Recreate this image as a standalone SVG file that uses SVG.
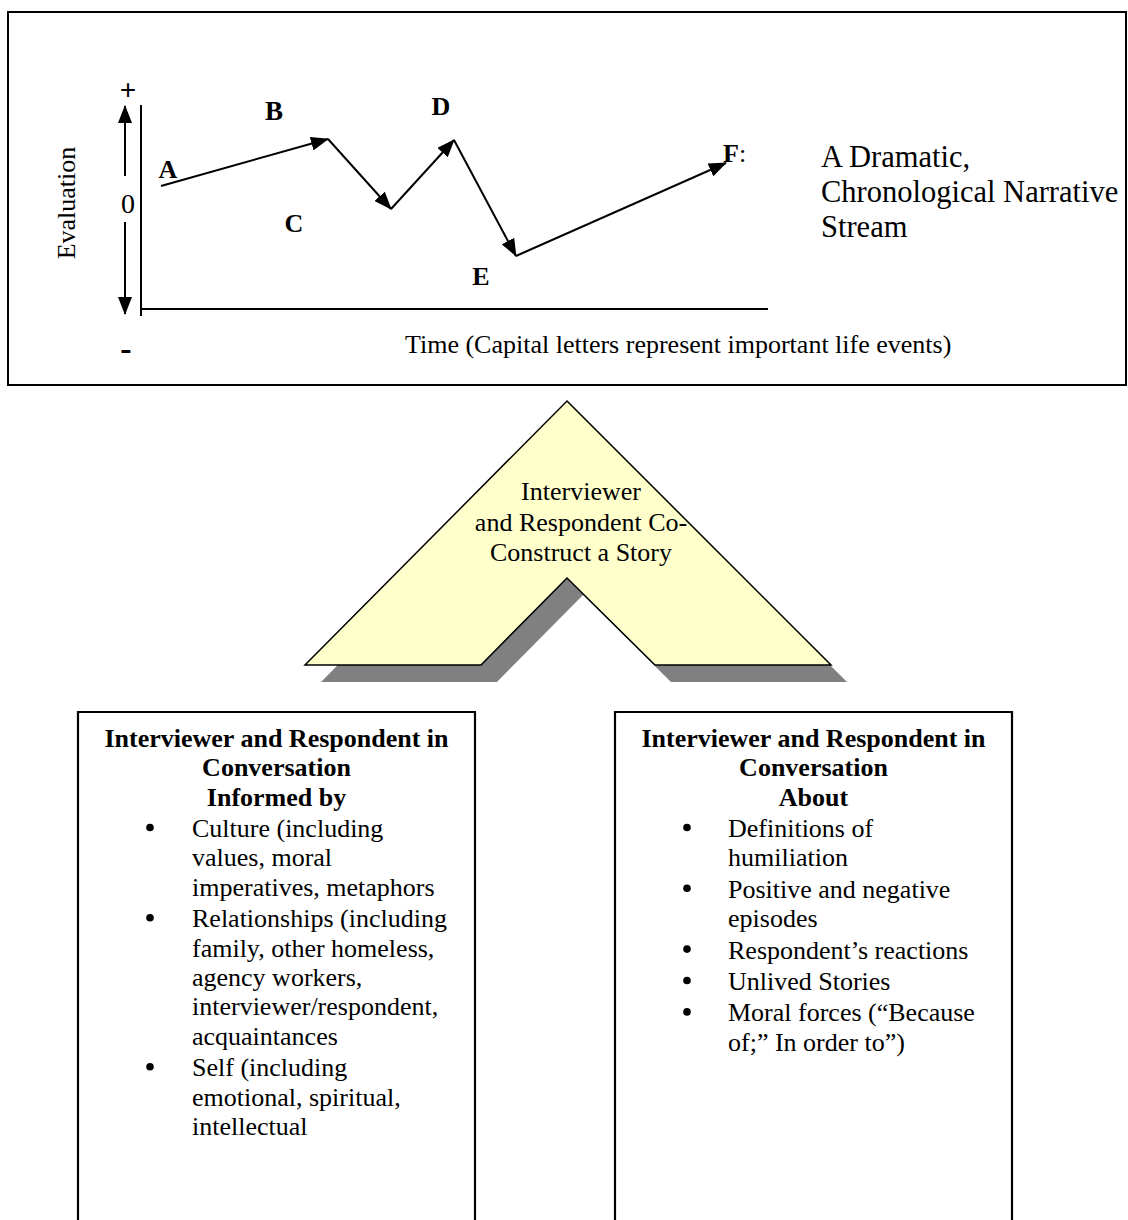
<svg xmlns="http://www.w3.org/2000/svg" width="1128" height="1220" viewBox="0 0 1128 1220">
  <style>
    .serif { font-family: "Liberation Serif", "Times New Roman", serif; fill: #000; }
    .lbl { font-family: "Liberation Serif", "Times New Roman", serif; font-size: 26px; font-weight: bold; fill: #000; }
    .txt { font-family: "Liberation Serif", "Times New Roman", serif; font-size: 26px; fill: #000; }
    .hd { font-family: "Liberation Serif", "Times New Roman", serif; font-size: 26px; font-weight: bold; fill: #000; text-anchor: middle; }
    .ln { stroke: #000; stroke-width: 2; fill: none; }
    .seg { stroke: #000; stroke-width: 2; fill: none; marker-end: url(#head); }
    .box { stroke: #000; stroke-width: 2.2; fill: none; }
    .dot { fill: #000; }
  </style>
  <defs>
    <marker id="head" viewBox="0 0 18 14" refX="17" refY="7" markerWidth="18" markerHeight="14" markerUnits="userSpaceOnUse" orient="auto">
      <path d="M0,0 L18,7 L0,14 z" fill="#000"/>
    </marker>
  </defs>

  <!-- chart frame -->
  <g id="chart-frame">
    <rect x="8" y="12" width="1118" height="373" fill="#fff" stroke="#000" stroke-width="2"/>
  </g>

  <!-- axes -->
  <g id="axes">
    <line class="ln" x1="141" y1="105" x2="141" y2="316"/>
    <line class="ln" x1="141" y1="309" x2="768" y2="309"/>
    <line class="seg" x1="125" y1="176" x2="125" y2="106"/>
    <line class="seg" x1="125" y1="222" x2="125" y2="314"/>
    <text class="lbl" style="font-size:29px" x="128" y="100" text-anchor="middle">+</text>
    <text class="txt" style="font-size:28px" x="128" y="213" text-anchor="middle">0</text>
    <text class="lbl" style="font-size:34px" x="126" y="360" text-anchor="middle">-</text>
    <text class="txt" x="75" y="203" text-anchor="middle" transform="rotate(-90 75 203)">Evaluation</text>
    <text class="txt" x="405" y="353">Time (Capital letters represent important life events)</text>
  </g>

  <!-- narrative stream connectors -->
  <g id="connectors">
    <line class="seg" x1="161" y1="186" x2="328" y2="139"/>
    <line class="seg" x1="328" y1="139" x2="391" y2="209"/>
    <line class="seg" x1="391" y1="209" x2="454" y2="140"/>
    <line class="seg" x1="454" y1="140" x2="516" y2="256"/>
    <line class="seg" x1="516" y1="256" x2="726" y2="163"/>
  </g>

  <!-- life events -->
  <g id="event-a"><text class="lbl" x="168" y="178" text-anchor="middle">A</text></g>
  <g id="event-b"><text class="lbl" style="font-size:27px" x="274" y="120" text-anchor="middle">B</text></g>
  <g id="event-c"><text class="lbl" x="294" y="232" text-anchor="middle">C</text></g>
  <g id="event-d"><text class="lbl" x="441" y="115" text-anchor="middle">D</text></g>
  <g id="event-e"><text class="lbl" x="481" y="285" text-anchor="middle">E</text></g>
  <g id="event-f"><text class="lbl" x="723" y="162">F<tspan style="font-weight:normal">:</tspan></text></g>

  <g id="stream-title">
    <text class="serif" style="font-size:30.5px" x="821" y="167">A Dramatic,</text>
    <text class="serif" style="font-size:30.5px" x="821" y="202">Chronological Narrative</text>
    <text class="serif" style="font-size:30.5px" x="821" y="237">Stream</text>
  </g>

  <!-- co-construction chevron -->
  <g id="chevron">
    <polygon points="567,401 831,665 655,665 567,578 481,665 305,665" transform="translate(16,17)" fill="#808080"/>
    <polygon points="567,401 831,665 655,665 567,578 481,665 305,665" fill="#FFFFCC" stroke="#000" stroke-width="1.5" stroke-linejoin="miter"/>
    <text class="txt" x="581" y="500" text-anchor="middle">Interviewer</text>
    <text class="txt" x="581" y="531" text-anchor="middle">and Respondent Co-</text>
    <text class="txt" x="581" y="561" text-anchor="middle">Construct a Story</text>
  </g>

  <!-- left box: informed by -->
  <g id="informed-by">
    <path class="box" d="M78,1225 L78,712 L475,712 L475,1225"/>
    <text class="hd" x="276.5" y="747">Interviewer and Respondent in</text>
    <text class="hd" x="276.5" y="776.4">Conversation</text>
    <text class="hd" x="276.5" y="805.8">Informed by</text>
    <circle class="dot" cx="150" cy="827.5" r="3.8"/>
    <circle class="dot" cx="150" cy="917.7" r="3.8"/>
    <circle class="dot" cx="150" cy="1066.7" r="3.8"/>
    <text class="txt" x="192" y="837">Culture (including</text>
    <text class="txt" x="192" y="866.4">values, moral</text>
    <text class="txt" x="192" y="895.8">imperatives, metaphors</text>
    <text class="txt" x="192" y="927.2">Relationships (including</text>
    <text class="txt" x="192" y="956.6">family, other homeless,</text>
    <text class="txt" x="192" y="986">agency workers,</text>
    <text class="txt" x="192" y="1015.4">interviewer/respondent,</text>
    <text class="txt" x="192" y="1044.8">acquaintances</text>
    <text class="txt" x="192" y="1076.2">Self (including</text>
    <text class="txt" x="192" y="1105.6">emotional, spiritual,</text>
    <text class="txt" x="192" y="1135">intellectual</text>
  </g>

  <!-- right box: about -->
  <g id="about">
    <path class="box" d="M615,1225 L615,712 L1012,712 L1012,1225"/>
    <text class="hd" x="813.5" y="747">Interviewer and Respondent in</text>
    <text class="hd" x="813.5" y="776.4">Conversation</text>
    <text class="hd" x="813.5" y="805.8">About</text>
    <circle class="dot" cx="687" cy="827.5" r="3.8"/>
    <circle class="dot" cx="687" cy="888.3" r="3.8"/>
    <circle class="dot" cx="687" cy="949.1" r="3.8"/>
    <circle class="dot" cx="687" cy="980.5" r="3.8"/>
    <circle class="dot" cx="687" cy="1011.9" r="3.8"/>
    <text class="txt" x="728" y="837">Definitions of</text>
    <text class="txt" x="728" y="866.4">humiliation</text>
    <text class="txt" x="728" y="897.8">Positive and negative</text>
    <text class="txt" x="728" y="927.2">episodes</text>
    <text class="txt" x="728" y="958.6">Respondent’s reactions</text>
    <text class="txt" x="728" y="990">Unlived Stories</text>
    <text class="txt" x="728" y="1021.4">Moral forces (“Because</text>
    <text class="txt" x="728" y="1050.8">of;” In order to”)</text>
  </g>
</svg>
